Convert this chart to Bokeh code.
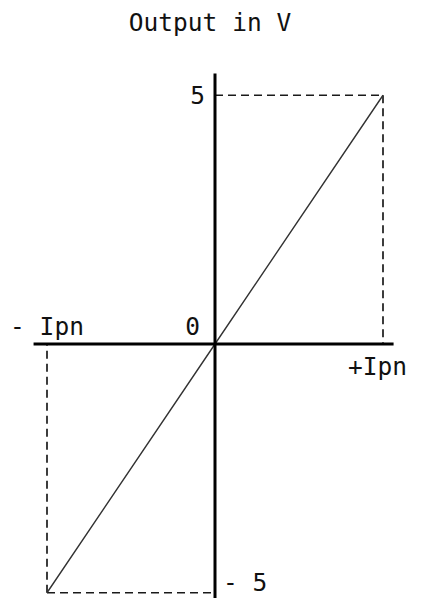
from bokeh.plotting import figure
from bokeh.models import Range1d
from bokeh.embed import file_html
from bokeh.resources import INLINE
from bokeh.core.properties import value

# ---- data ----
current = [-1, 0, 1]          # input current, in units of Ipn
output_v = [-5, 0, 5]         # output voltage in V
x_tick_labels = ["- Ipn", "+Ipn"]
origin_label = "0"
y_tick_labels = ["- 5", "5"]
chart_title = "Output in V"

# ---- layout / style ----
W, H = 408, 598
X_PX = 168.0      # pixels per Ipn
Y_PX = 49.75      # pixels per volt
X0_PX = 214.5     # frame x of the origin
Y0_PX = 343.5     # frame y (from top) of the origin
FONT = value("DejaVu Sans Mono")
FS = "24.5px"
TXT = "#111111"

x_start, x_end = -X0_PX / X_PX, (W - X0_PX) / X_PX
y_start, y_end = -(H - Y0_PX) / Y_PX, Y0_PX / Y_PX

p = figure(width=W, height=H, output_backend="svg", toolbar_location=None,
           x_range=Range1d(x_start, x_end), y_range=Range1d(y_start, y_end),
           x_axis_type=None, y_axis_type=None, min_border=0)
p.grid.visible = False
p.outline_line_color = None
p.background_fill_color = "white"
p.border_fill_color = "white"

lo_x, hi_x = current[0], current[-1]
lo_y, hi_y = output_v[0], output_v[-1]
zero = current[1]

# dashed guide lines to the end points
p.segment(x0=[zero, hi_x, lo_x, lo_x], y0=[hi_y, hi_y, lo_y, lo_y],
          x1=[hi_x, hi_x, zero, lo_x], y1=[hi_y, zero, lo_y, zero],
          line_color="#1a1a1a", line_width=1.7, line_dash="8 5")

# transfer characteristic
p.line(current, output_v, line_color="#333333", line_width=1.4)

# axes (drawn as thick lines through the origin)
ax_top = 5.437
ax_left, ax_right = -1.080, 1.063
p.segment(x0=[zero, ax_left], y0=[y_start, zero], x1=[zero, ax_right], y1=[ax_top, zero],
          line_color="black", line_width=3)

common = dict(text_font=FONT, text_font_size=FS, text_color=TXT)

# x labels
p.text(x=[lo_x], y=[zero], text=[x_tick_labels[0]], text_align="center",
       text_baseline="middle", y_offset=-18, **common)
p.text(x=[hi_x], y=[zero], text=[x_tick_labels[1]], text_align="right",
       text_baseline="middle", x_offset=24, y_offset=22, **common)
# origin
p.text(x=[zero], y=[zero], text=[origin_label], text_align="right",
       text_baseline="middle", x_offset=-15, y_offset=-18, **common)
# y labels
p.text(x=[zero], y=[hi_y], text=[y_tick_labels[1]], text_align="right",
       text_baseline="middle", x_offset=-10, **common)
p.text(x=[zero], y=[lo_y], text=[y_tick_labels[0]], text_align="left",
       text_baseline="middle", x_offset=8, y_offset=-10, **common)

# title
p.text(x=[zero], y=[y_end], text=[chart_title], text_align="center",
       text_baseline="alphabetic", x_offset=-5, y_offset=22, **common)

open("out.html", "w").write(file_html(p, INLINE))
